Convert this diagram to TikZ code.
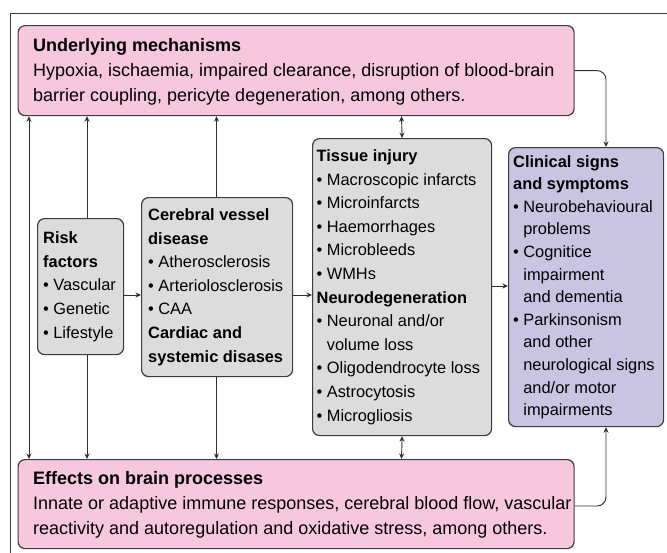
\documentclass[tikz,border=0pt]{standalone}
\usepackage{fontspec}
\setmainfont{Liberation Sans}
\usetikzlibrary{arrows.meta}
\definecolor{pinkf}{RGB}{247,200,221}
\definecolor{grayf}{RGB}{220,220,220}
\definecolor{purpf}{RGB}{200,196,226}
\definecolor{edgec}{RGB}{60,60,60}
\definecolor{linec}{RGB}{45,45,45}
\newcommand{\bl}{\makebox[0.62em][l]{•}}
\newcommand{\ind}{\hspace*{0.62em}}
\begin{document}
\begin{tikzpicture}[x=1pt,y=-1pt,
  boxs/.style={draw=edgec, line width=1.2pt, rounded corners=7pt, anchor=north west, inner sep=0pt},
  txt/.style={anchor=west, align=left, inner sep=0pt, text=black},
  smalltxt/.style={txt, font=\fontsize{16.4}{23.6}\selectfont},
  bigtxt/.style={txt, font=\fontsize{18}{25}\selectfont},
  conn/.style={draw=linec, line width=0.9pt},
  tip/.tip={Stealth[length=5.5pt,width=5pt]},
  arr/.style={conn, -tip},
  darr/.style={conn, tip-tip}]
\useasboundingbox (0,0) rectangle (667,552);
% outer frame
\coordinate (frA) at (10,600);
\coordinate (frB) at (10,13);
\coordinate (frC) at (700,13);
\draw[draw=edgec, line width=1pt] (frA) -- (frB) -- (frC);
% boxes
\node[boxs, fill=pinkf, minimum width=556pt, minimum height=90pt] (top) at (17.5,25) {};
\node[boxs, fill=pinkf, minimum width=556pt, minimum height=89pt] (bot) at (17.5,459) {};
% helper coordinates for vertical connectors
\coordinate (v1) at (29,0);
\coordinate (v2) at (87,0);
\coordinate (v3) at (216.5,0);
\coordinate (v4) at (401.5,0);
\coordinate (vr) at (606,0);
\coordinate (ya) at (0,295);
\coordinate (yb) at (0,286);
\coordinate (yc) at (0,506);
% long vertical connectors (behind the boxes)
\draw[darr] (v1 |- top.south) -- (v1 |- bot.north);
\draw[darr] (v2 |- top.south) -- (v2 |- bot.north);
\draw[darr] (v3 |- top.south) -- (v3 |- bot.north);
\node[boxs, fill=grayf, minimum width=86pt, minimum height=136pt] (risk) at (37,218) {};
\node[boxs, fill=grayf, minimum width=151pt, minimum height=179pt] (cer) at (141,197) {};
\node[boxs, fill=grayf, minimum width=179pt, minimum height=297pt] (tis) at (312,138) {};
\node[boxs, fill=purpf, minimum width=155pt, minimum height=279pt] (cli) at (508,147) {};
% texts
\node[bigtxt] (topT) at ([xshift=15.5pt,yshift=-1pt]top.west) {\textbf{Underlying mechanisms}\\Hypoxia, ischaemia, impaired clearance, disruption of blood-brain\\barrier coupling, pericyte degeneration, among others.};
\node[bigtxt] (botT) at ([xshift=15.5pt,yshift=-1pt]bot.west) {\textbf{Effects on brain processes}\\Innate or adaptive immune responses, cerebral blood flow, vascular\\reactivity and autoregulation and oxidative stress, among others.};
\node[smalltxt] (riskT) at ([xshift=6pt]risk.west) {\textbf{Risk}\\\textbf{factors}\\\bl Vascular\\\bl Genetic\\\bl Lifestyle};
\node[smalltxt] (cerT) at ([xshift=7pt]cer.west) {\textbf{Cerebral vessel}\\\textbf{disease}\\\bl Atherosclerosis\\\bl Arteriolosclerosis\\\bl CAA\\\textbf{Cardiac and}\\\textbf{systemic disases}};
\node[smalltxt] (tisT) at ([xshift=4.5pt]tis.west) {\textbf{Tissue injury}\\\bl Macroscopic infarcts\\\bl Microinfarcts\\\bl Haemorrhages\\\bl Microbleeds\\\bl WMHs\\\textbf{Neurodegeneration}\\\bl Neuronal and/or\\\ind volume loss\\\bl Oligodendrocyte loss\\\bl Astrocytosis\\\bl Microgliosis};
\node[txt, font=\fontsize{16.4}{22.6}\selectfont] (cliT) at ([xshift=5pt]cli.west) {\textbf{Clinical signs}\\\textbf{and symptoms}\\\bl Neurobehavioural\\\ind problems\\\bl Cognitice\\\ind impairment\\\ind and dementia\\\bl Parkinsonism\\\ind and other\\\ind neurological signs\\\ind and/or motor\\\ind impairments};
% short connectors
\draw[darr] (v4 |- top.south) -- (tis.north);
\draw[darr] (tis.south) -- (v4 |- bot.north);
\draw[arr] (risk.east |- ya) -- (cer.west |- ya);
\draw[arr] (cer.east |- ya) -- (tis.west |- ya);
\draw[arr] (tis.east |- yb) -- (cli.west |- yb);
\draw[arr, rounded corners=9pt] (top.east) -| (vr |- cli.north);
\draw[arr, rounded corners=9pt] (bot.east |- yc) -| (vr |- cli.south);
\end{tikzpicture}
\end{document}
